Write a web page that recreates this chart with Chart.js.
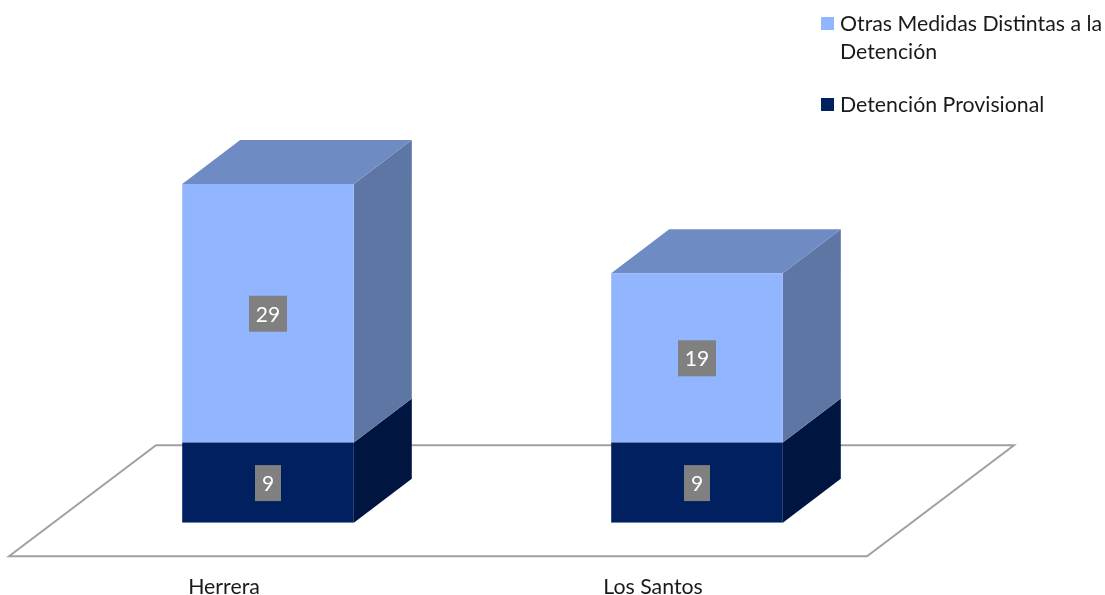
<!DOCTYPE html>
<html lang="es">
<head>
<meta charset="utf-8">
<title>Medidas cautelares</title>
<script src="https://cdn.jsdelivr.net/npm/chart.js@4/dist/chart.umd.js"></script>
<style>
  html, body { margin: 0; padding: 0; background: #fff; overflow: hidden; }
  #wrap { position: relative; width: 1105px; height: 595px; }
  #legend { position: absolute; left: 821px; top: 9px; width: 284px; font: 21.3px Lato, sans-serif; color: #1a1a1a; line-height: 28px; }
  .item { position: relative; padding-left: 19px; margin-bottom: 25px; white-space: nowrap; }
  .swatch { position: absolute; left: 0; top: 8px; width: 13px; height: 13px; }
</style>
</head>
<body>
<div id="wrap">
  <canvas id="chart" width="1105" height="595"></canvas>
  <div id="legend"></div>
</div>
<script>
const categories = ['Herrera', 'Los Santos']
const detencion = [9, 9]
const otrasMedidas = [29, 19]
const detencionName = 'Detención Provisional'
const otrasName = ['Otras Medidas Distintas a la', 'Detención']

const DEPTH_X = 58
const DEPTH_Y = 44

const faces = [
  { front: '#00205f', side: '#001540', top: '#00205f' },
  { front: '#92b5ff', side: '#5e76a3', top: '#6f8bc4' },
]

function poly(ctx, pts, fill) {
  ctx.beginPath()
  pts.forEach((p, i) => (i ? ctx.lineTo(p[0], p[1]) : ctx.moveTo(p[0], p[1])))
  ctx.closePath()
  ctx.fillStyle = fill
  ctx.fill()
}

// floor and the 3d faces go under the flat chart.js bars
const box3d = {
  id: 'box3d',
  beforeDatasetsDraw(chart) {
    const { ctx } = chart
    const x = chart.scales.x
    const bottom = chart.scales.y.getPixelForValue(0)
    const frontY = bottom + 33.5
    const backY = frontY - 111
    const left = x.left - 44.5
    ctx.save()
    ctx.beginPath()
    ctx.moveTo(left, frontY)
    ctx.lineTo(left + 147, backY)
    ctx.lineTo(left + 1005, backY)
    ctx.lineTo(left + 858, frontY)
    ctx.closePath()
    ctx.strokeStyle = '#a0a0a0'
    ctx.lineWidth = 2
    ctx.stroke()

    chart.data.datasets.forEach((ds, d) => {
      chart.getDatasetMeta(d).data.forEach((bar) => {
        const { x: cx, y, base, width } = bar.getProps(['x', 'y', 'base', 'width'])
        const r = cx + width / 2
        const l = cx - width / 2
        poly(ctx, [[r, y], [r + DEPTH_X, y - DEPTH_Y], [r + DEPTH_X, base - DEPTH_Y], [r, base]], faces[d].side)
        if (d === chart.data.datasets.length - 1) {
          poly(ctx, [[l, y], [l + DEPTH_X, y - DEPTH_Y], [r + DEPTH_X, y - DEPTH_Y], [r, y]], faces[d].top)
        }
      })
    })
    ctx.restore()
  },
  afterDatasetsDraw(chart) {
    const { ctx } = chart
    ctx.save()
    ctx.font = '21px Lato, sans-serif'
    ctx.textAlign = 'center'
    ctx.textBaseline = 'middle'
    chart.data.datasets.forEach((ds, d) => {
      chart.getDatasetMeta(d).data.forEach((bar, i) => {
        const { x: cx, y, base } = bar.getProps(['x', 'y', 'base'])
        const my = (y + base) / 2 + 0.5
        const txt = String(ds.data[i])
        const w = txt.length > 1 ? 38 : 26
        ctx.fillStyle = '#808080'
        ctx.fillRect(cx - w / 2, my - 18, w, 36)
        ctx.fillStyle = '#fff'
        ctx.fillText(txt, cx, my + 1)
      })
    })
    ctx.restore()
  },
}

new Chart(document.getElementById('chart').getContext('2d'), {
  type: 'bar',
  data: {
    labels: categories,
    datasets: [
      { label: detencionName, data: detencion, backgroundColor: faces[0].front, borderWidth: 0 },
      { label: otrasName.join(' '), data: otrasMedidas, backgroundColor: faces[1].front, borderWidth: 0 },
    ],
  },
  options: {
    responsive: false,
    animation: false,
    layout: { padding: { left: 53.5, right: 193.5, top: 184, bottom: 0 } },
    plugins: { legend: { display: false }, tooltip: { enabled: false } },
    datasets: { bar: { categoryPercentage: 0.4, barPercentage: 1 } },
    scales: {
      x: {
        stacked: true,
        grid: { display: false },
        border: { display: false },
        afterFit(scale) {
          scale.height = 72.3
        },
        ticks: {
          autoSkip: false,
          maxRotation: 0,
          labelOffset: -44,
          padding: 44,
          color: '#1a1a1a',
          font: { family: 'Lato, sans-serif', size: 21.3 },
        },
      },
      y: { stacked: true, display: false, min: 0, max: 38 },
    },
  },
  plugins: [box3d],
})

const legend = document.getElementById('legend')
const legendRows = [
  { lines: otrasName, color: faces[1].front },
  { lines: [detencionName], color: faces[0].front },
]
legendRows.forEach((row) => {
  const item = document.createElement('div')
  item.className = 'item'
  const swatch = document.createElement('span')
  swatch.className = 'swatch'
  swatch.style.background = row.color
  item.appendChild(swatch)
  row.lines.forEach((line) => {
    const div = document.createElement('div')
    div.textContent = line
    item.appendChild(div)
  })
  legend.appendChild(item)
})
</script>
</body>
</html>
